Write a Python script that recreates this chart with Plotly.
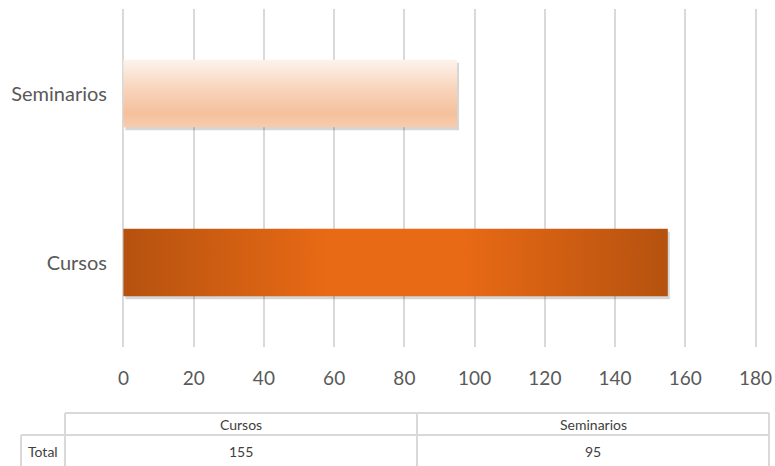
import plotly.graph_objects as go

# ---- data ----
categories = ["Cursos", "Seminarios"]
values = [155, 95]
row_label = "Total"
x_ticks = [0, 20, 40, 60, 80, 100, 120, 140, 160, 180]

# ---- styles ----
FONT = "Lato, Roboto, sans-serif"
TXT = "#595959"
GRID = "#D9D9D9"
BAR_HALF = 0.2
gradients = [
    dict(type="horizontal",
         colorscale=[[0, "#B5520F"], [0.38, "#E96A15"], [0.62, "#E96A15"], [1, "#B5520F"]]),
    dict(type="vertical",
         colorscale=[[0, "#F7CCAE"], [0.2, "#F5C09C"], [0.55, "#F8D3BA"], [1, "#FDF3EC"]]),
]

W, H = 775, 466
L, R, T, B = 122, 18, 9, 119
PW, PH = W - L - R, H - T - B


def px(x):
    return (x - L) / PW


def py(y):
    return (H - B - y) / PH


fig = go.Figure()

for i, (cat, v) in enumerate(zip(categories, values)):
    # soft drop shadow
    dx, dy = 2.0 * 180 / PW, 3.0 * 2 / PH
    fig.add_trace(go.Scatter(
        x=[0 + dx, v + dx, v + dx, 0 + dx, 0 + dx],
        y=[i - BAR_HALF - dy, i - BAR_HALF - dy, i + BAR_HALF - dy, i + BAR_HALF - dy, i - BAR_HALF - dy],
        fill="toself", mode="lines", line=dict(width=0),
        fillcolor="rgba(0,0,0,0.16)", hoverinfo="skip", showlegend=False))
    fig.add_trace(go.Scatter(
        x=[0, v, v, 0, 0],
        y=[i - BAR_HALF, i - BAR_HALF, i + BAR_HALF, i + BAR_HALF, i - BAR_HALF],
        fill="toself", mode="lines", line=dict(width=0),
        fillgradient=gradients[i], name=cat, showlegend=False))

fig.update_layout(
    width=W, height=H,
    margin=dict(l=L, r=R, t=T, b=B),
    plot_bgcolor="white", paper_bgcolor="white",
    font=dict(family=FONT, color=TXT),
    xaxis=dict(range=[-0.4, 180.4], tickvals=x_ticks, showgrid=True, gridcolor=GRID, gridwidth=1.5,
               zeroline=False, showline=False, ticks="", tickfont=dict(size=19, color=TXT),
               ticklabelstandoff=18, fixedrange=True, automargin=False),
    yaxis=dict(range=[-0.5, 1.5], tickvals=list(range(len(categories))), ticktext=categories,
               showgrid=False, zeroline=False, showline=False, ticks="",
               tickfont=dict(size=20, color=TXT), ticklabelstandoff=14, fixedrange=True,
               automargin=False),
)

# ---- data table below the chart ----
tx = [21, 65, 417, 769]
ty = [413, 435, 470]
LINE = dict(color="#D9D9D9", width=2)
shapes = []
# header row (no border above the row-label column)
shapes.append(dict(type="line", x0=px(tx[1]), x1=px(tx[3]), y0=py(ty[0]), y1=py(ty[0])))
shapes.append(dict(type="line", x0=px(tx[0]), x1=px(tx[3]), y0=py(ty[1]), y1=py(ty[1])))
shapes.append(dict(type="line", x0=px(tx[0]), x1=px(tx[0]), y0=py(ty[1]), y1=py(ty[2])))
for xx in tx[1:]:
    shapes.append(dict(type="line", x0=px(xx), x1=px(xx), y0=py(ty[0]), y1=py(ty[2])))
for s in shapes:
    s.update(xref="paper", yref="paper", line=LINE, layer="above")
fig.update_layout(shapes=shapes)

ann = []
for j, (cat, v) in enumerate(zip(categories, values)):
    cx = (tx[j + 1] + tx[j + 2]) / 2
    ann.append(dict(x=px(cx), y=py(424.5), text=cat))
    ann.append(dict(x=px(cx), y=py(451.5), text=str(v)))
ann.append(dict(x=px((tx[0] + tx[1]) / 2), y=py(451.5), text=row_label))
for a in ann:
    a.update(xref="paper", yref="paper", showarrow=False, xanchor="center", yanchor="middle",
             font=dict(size=14, color="#404040", family=FONT))
fig.update_layout(annotations=ann)

fig.write_html("out.html")
